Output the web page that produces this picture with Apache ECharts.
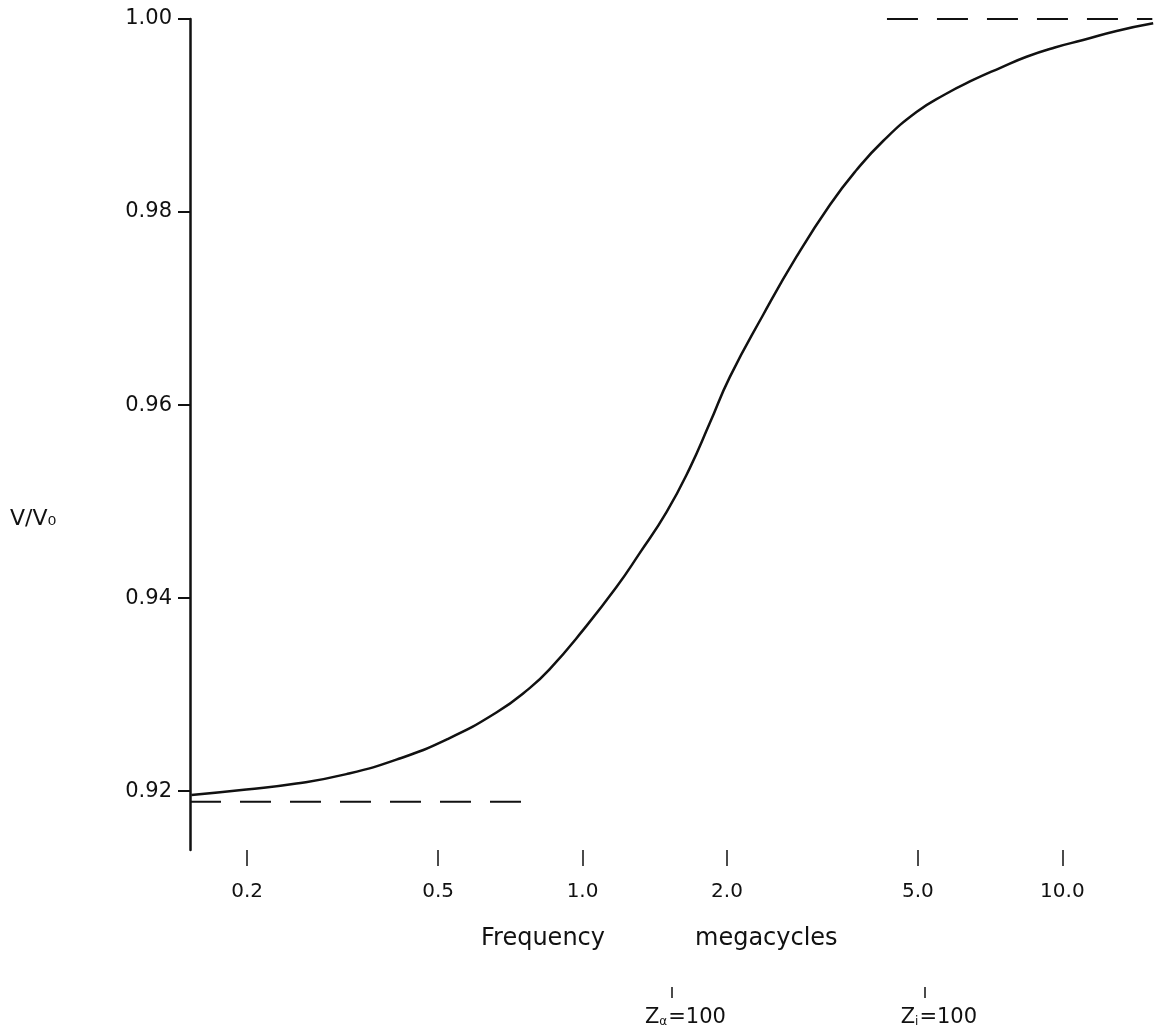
<!DOCTYPE html>
<html>
<head>
<meta charset="utf-8">
<script src="https://cdn.jsdelivr.net/npm/echarts@6/dist/echarts.min.js"></script>
<style>
  html, body { margin: 0; padding: 0; background: #fff; }
  #chart { width: 1168px; height: 1032px; }
</style>
</head>
<body>
<div id="chart"></div>
<script>
// frequency in megacycles, V/V0
const freq = [0.153, 0.1992, 0.2533, 0.322, 0.4093, 0.5204, 0.6614, 0.7758, 0.8543, 1.0024,
  1.1768, 1.3156, 1.4961, 1.6732, 1.8417, 2.027, 2.3781, 2.792, 3.2763, 3.7237,
  4.2309, 4.9663, 5.6894, 6.5174, 7.408, 8.4213, 9.646, 11.049, 12.973, 15.465];
const ratio = [0.91959, 0.92016, 0.92078, 0.92176, 0.92326, 0.92534, 0.92814, 0.93067, 0.93264, 0.93668,
  0.94114, 0.94466, 0.94891, 0.95347, 0.95813, 0.96290, 0.96933, 0.97537, 0.98073, 0.98435,
  0.98736, 0.99036, 0.99218, 0.99368, 0.99492, 0.99609, 0.99705, 0.99782, 0.99876, 0.99955];

// asymptotes (dashed)
const lowFreq = [0.152, 0.747];
const lowLevel = [0.9189, 0.9189];
const highFreq = [4.31, 15.4];
const highLevel = [1.0, 1.0];

const xTicks = [0.2, 0.5, 1, 2, 5, 10];
const yTicks = [0.92, 0.94, 0.96, 0.98, 1.00];
// frequencies where Z = 100
const zFreq = [1.532, 5.17];
const zLabels = ['{z|Z}{s|α}{t|=100}', '{z|Z}{s|i}{t|=100}'];

const chart = echarts.init(document.getElementById('chart'));
const font = 'DejaVu Sans';
const ink = '#111';

const option = {
  backgroundColor: '#fff',
  animation: false,
  grid: { left: 190, right: 13, top: 19, bottom: 182, outerBoundsMode: 'none' },
  xAxis: [{
    type: 'log',
    min: 0.152,
    max: 15.6,
    axisLine: { show: false },
    splitLine: { show: false },
    minorTick: { show: false },
    axisTick: { show: true, customValues: xTicks, length: 16, lineStyle: { color: ink, width: 1.5 } },
    axisLabel: {
      customValues: xTicks,
      margin: 32,
      color: ink,
      fontFamily: font,
      fontSize: 20,
      formatter: v => v.toFixed(1)
    }
  }, {
    type: 'log',
    min: 0.152,
    max: 15.6,
    position: 'bottom',
    offset: 137,
    axisLine: { show: false },
    splitLine: { show: false },
    minorTick: { show: false },
    axisTick: { show: true, customValues: zFreq, length: 11, lineStyle: { color: ink, width: 1.5 } },
    axisLabel: {
      customValues: zFreq,
      margin: 20,
      padding: [0, 0, 0, 28],
      formatter: v => zLabels[zFreq.indexOf(v)],
      rich: {
        z: { fontFamily: font, fontSize: 21, color: ink },
        s: { fontFamily: font, fontSize: 12, color: ink, padding: [8, 1, 0, 0] },
        t: { fontFamily: font, fontSize: 21, color: ink }
      }
    }
  }],
  yAxis: {
    type: 'value',
    min: 0.9139,
    max: 1.0,
    axisLine: { show: true, lineStyle: { color: ink, width: 2.5 } },
    splitLine: { show: false },
    axisTick: { show: true, customValues: yTicks, length: 12, lineStyle: { color: ink, width: 2 } },
    axisLabel: {
      customValues: yTicks,
      margin: 18,
      color: ink,
      fontFamily: font,
      fontSize: 21,
      formatter: v => v.toFixed(2)
    }
  },
  graphic: [
    { type: 'text', left: 10, top: 508, style: { text: 'V/V₀', font: '22px "DejaVu Sans"', fill: ink } },
    { type: 'text', left: 481, top: 927, style: { text: 'Frequency', font: '24px "DejaVu Sans"', fill: ink } },
    { type: 'text', left: 695, top: 927, style: { text: 'megacycles', font: '24px "DejaVu Sans"', fill: ink } }
  ],
  series: [{
    type: 'line',
    data: freq.map((f, i) => [f, ratio[i]]),
    smooth: 0.5,
    showSymbol: false,
    lineStyle: { color: ink, width: 2.5 }
  }, {
    type: 'line',
    data: lowFreq.map((f, i) => [f, lowLevel[i]]),
    showSymbol: false,
    lineStyle: { color: ink, width: 2, type: [31, 19] }
  }, {
    type: 'line',
    data: highFreq.map((f, i) => [f, highLevel[i]]),
    showSymbol: false,
    lineStyle: { color: ink, width: 2, type: [31, 19] }
  }]
};

chart.setOption(option);
</script>
</body>
</html>
